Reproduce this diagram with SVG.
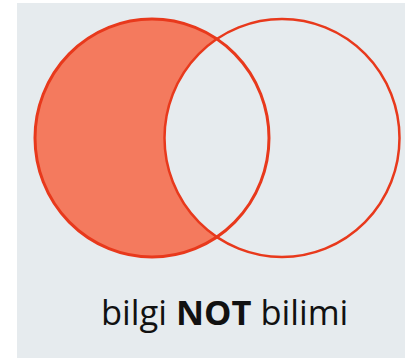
<svg xmlns="http://www.w3.org/2000/svg" width="405" height="358" viewBox="0 0 405 358">
  <style>
    .bg { fill: #e6ebee; }
    .set { fill: none; stroke: #e8391c; }
    .label { font-family: "Open Sans", "Noto Sans", sans-serif; font-size: 34.5px; fill: #111111; }
  </style>
  <rect x="0" y="0" width="405" height="358" fill="#ffffff"/>
  <rect class="bg" x="17" y="3" width="388" height="355"/>
  <g id="set-a">
    <ellipse cx="152" cy="138" rx="117" ry="119" fill="#f47a5e"/>
  </g>
  <g id="set-b">
    <ellipse cx="282" cy="138" rx="117.5" ry="119" fill="#e6ebee"/>
  </g>
  <g id="outlines">
    <ellipse class="set" cx="152" cy="138" rx="117" ry="119" stroke-width="3"/>
    <ellipse class="set" cx="282" cy="138" rx="117.5" ry="119" stroke-width="2.5"/>
  </g>
  <g id="caption">
    <text class="label" x="101" y="325">bilgi <tspan font-weight="bold">NOT</tspan> bilimi</text>
  </g>
</svg>
